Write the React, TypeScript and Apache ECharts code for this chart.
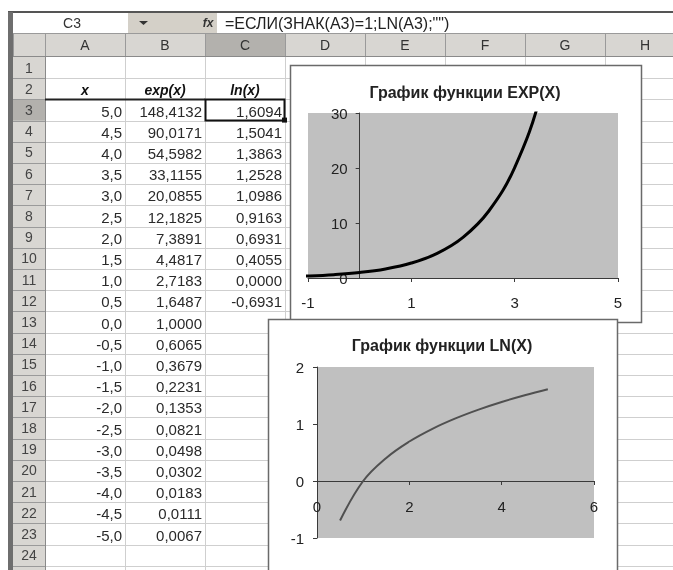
import React, { useEffect, useRef } from "react";
import * as echarts from "echarts";

// ---- data ----
const xValues = [5.0, 4.5, 4.0, 3.5, 3.0, 2.5, 2.0, 1.5, 1.0, 0.5, 0.0, -0.5, -1.0, -1.5, -2.0, -2.5, -3.0, -3.5, -4.0, -4.5, -5.0];
const expValues = [148.4132, 90.0171, 54.5982, 33.1155, 20.0855, 12.1825, 7.3891, 4.4817, 2.7183, 1.6487, 1.0, 0.6065, 0.3679, 0.2231, 0.1353, 0.0821, 0.0498, 0.0302, 0.0183, 0.0111, 0.0067];
const lnValues = [1.6094, 1.5041, 1.3863, 1.2528, 1.0986, 0.9163, 0.6931, 0.4055, 0.0, -0.6931];
const columnLetters = ["A", "B", "C", "D", "E", "F", "G", "H"];
const headerTexts = ["x", "exp(x)", "ln(x)"];
const cellName = "C3";
const formulaText = '=ЕСЛИ(ЗНАК(A3)=1;LN(A3);"")';
const expTitle = "График функции EXP(X)";
const lnTitle = "График функции LN(X)";
const expXTicks = [-1, 1, 3, 5];
const expYTicks = [0, 10, 20, 30];
const lnXTicks = [0, 2, 4, 6];
const lnYTicks = [-1, 0, 1, 2];

// ---- layout ----
const FONT = "'Liberation Sans', Arial, sans-serif";
const W = 673;
const H = 570;
const colEdges = [13, 45, 125, 205, 285, 365, 445, 525, 605, 685];
const headerTop = 33;
const rowTop0 = 57;
const rowH = 21.2;
const rowCount = 25;
const labelRows = 24;
const rowTop = (r: number) => rowTop0 + (r - 1) * rowH;

const expGrid = { left: 308, top: 113, width: 310, height: 165 };
const lnGrid = { left: 317, top: 367, width: 277, height: 171 };

const fmt = (v: number, d: number) => v.toFixed(d).replace(".", ",");

function buildGraphic() {
  const g: any[] = [];
  const rect = (x: number, y: number, w: number, h: number, fill: string, z = -30, stroke?: string, lw = 1) =>
    g.push({ type: "rect", silent: true, z, shape: { x, y, width: w, height: h }, style: { fill, stroke: stroke || null, lineWidth: stroke ? lw : 0 } });
  const line = (x1: number, y1: number, x2: number, y2: number, stroke: string, lw = 1, z = -25) =>
    g.push({ type: "line", silent: true, z, shape: { x1, y1, x2, y2 }, style: { stroke, lineWidth: lw } });
  const text = (x: number, y: number, t: string, font: string, align = "center", fill = "#222", z = -20) =>
    g.push({
      type: "text", silent: true, z, x, y,
      style: { text: t, font, fill, align, textAlign: align, verticalAlign: "middle", textVerticalAlign: "middle" },
    });

  rect(0, 0, W, H, "#ffffff", -40);
  // formula bar
  rect(13, 13, 115, 20, "#ffffff", -35);
  rect(128, 13, 89, 20, "#d4d0c8", -35);
  rect(217, 13, W - 217, 20, "#ffffff", -35);
  text(72, 23, cellName, `14px ${FONT}`, "center", "#333");
  g.push({ type: "polygon", silent: true, z: -20, shape: { points: [[139, 21], [148, 21], [143.5, 25]] }, style: { fill: "#333" } });
  text(208, 23, "fx", `italic bold 12px ${FONT}`, "center", "#333");
  text(225, 23, formulaText, `16px ${FONT}`, "left", "#222");
  line(8, 12, W, 12, "#555", 2, -24);
  line(13, 33.5, W, 33.5, "#9a9a9a", 1, -24);

  // header row
  rect(13, headerTop, W - 13, rowTop0 - headerTop, "#d8d6d2", -35);
  rect(colEdges[3], headerTop, colEdges[4] - colEdges[3], rowTop0 - headerTop, "#b3b1ad", -34);
  columnLetters.forEach((c, i) => {
    text((colEdges[i + 1] + colEdges[i + 2]) / 2, (headerTop + rowTop0) / 2, c, `14px ${FONT}`, "center", "#333");
  });
  colEdges.forEach((x) => line(x + 0.5, headerTop, x + 0.5, rowTop0, "#9a9a9a", 1, -24));
  line(13, rowTop0 - 0.5, W, rowTop0 - 0.5, "#8a8a8a", 1, -24);

  // row headers
  rect(13, rowTop0, colEdges[1] - 13, H - rowTop0, "#d8d6d2", -35);
  rect(13, rowTop(3), colEdges[1] - 13, rowH, "#b3b1ad", -34);
  for (let r = 1; r <= rowCount; r++) {
    if (r <= labelRows) text(29, rowTop(r) + rowH / 2, String(r), `14px ${FONT}`, "center", "#444");
    const yb = Math.round(rowTop(r) + rowH) + 0.5;
    line(13, yb, colEdges[1], yb, "#9a9a9a", 1, -24);
    line(colEdges[1], yb, W, yb, "#cfcfcf", 1, -26);
  }
  line(colEdges[1] + 0.5, rowTop0, colEdges[1] + 0.5, H, "#8a8a8a", 1, -24);
  colEdges.slice(2).forEach((x) => line(x + 0.5, rowTop0, x + 0.5, H, "#cfcfcf", 1, -26));
  // dark window edge
  rect(8, 12, 5, H - 12, "#6e6e6e", -23);

  // table texts
  headerTexts.forEach((t, i) => {
    text((colEdges[i + 1] + colEdges[i + 2]) / 2, rowTop(2) + rowH / 2 + 1, t, `italic bold 14px ${FONT}`, "center", "#111");
  });
  line(colEdges[1], rowTop(3), colEdges[3], rowTop(3), "#222", 2, -22);
  xValues.forEach((x, i) => {
    const cy = rowTop(3 + i) + rowH / 2 + 1;
    text(colEdges[2] - 3, cy, fmt(x, 1), `15px ${FONT}`, "right", "#2a2a2a");
    text(colEdges[3] - 3, cy, fmt(expValues[i], 4), `15px ${FONT}`, "right", "#2a2a2a");
    if (i < lnValues.length) text(colEdges[4] - 3, cy, fmt(lnValues[i], 4), `15px ${FONT}`, "right", "#2a2a2a");
  });
  // selected cell C3
  g.push({ type: "rect", silent: true, z: -21, shape: { x: colEdges[3] + 0.5, y: rowTop(3), width: colEdges[4] - colEdges[3] - 1, height: rowH }, style: { fill: null, stroke: "#111", lineWidth: 2 } });
  rect(colEdges[4] - 3, rowTop(4) - 3, 5, 5, "#111", -21);

  // chart boxes
  rect(290.5, 65.5, 351, 257, "#ffffff", -10, "#6a6a6a", 1.5);
  rect(268.5, 319.5, 349, 262, "#ffffff", -9, "#6a6a6a", 1.5);
  text(465, 92, expTitle, `bold 16px ${FONT}`, "center", "#222", -8);
  text(442, 345, lnTitle, `bold 16px ${FONT}`, "center", "#222", -8);
  return g;
}

const axisLabel = (margin: number) => ({ margin, color: "#222", fontSize: 15, fontFamily: FONT });
const axisLine = { onZero: false, lineStyle: { color: "#3a3a3a", width: 1 } };
const axisTick = { show: true, inside: false, length: 4, lineStyle: { color: "#3a3a3a" } };

// offset (negative = into the grid) that puts an axis where the other axis is 0
const zeroOffset = (ticks: number[], size: number, fromMax = false) => {
  const min = ticks[0];
  const max = ticks[ticks.length - 1];
  const frac = fromMax ? (max - 0) / (max - min) : (0 - min) / (max - min);
  return -Math.max(0, Math.min(1, fromMax ? 1 - frac : frac)) * size;
};

function valueAxis(ticks: number[], gridIndex: number, margin: number, offset: number) {
  return {
    type: "value",
    gridIndex,
    min: ticks[0],
    max: ticks[ticks.length - 1],
    interval: ticks[1] - ticks[0],
    offset,
    axisLine,
    axisTick,
    axisLabel: axisLabel(margin),
    splitLine: { show: false },
  };
}

export default function App() {
  const ref = useRef<HTMLDivElement>(null);
  useEffect(() => {
    document.body.style.margin = "0";
    const chart = echarts.init(ref.current!, null, { renderer: "svg" });
    chart.setOption({
      animation: false,
      grid: [
        { ...expGrid, show: true, backgroundColor: "#c0c0c0", borderWidth: 0 },
        { ...lnGrid, show: true, backgroundColor: "#c0c0c0", borderWidth: 0 },
      ],
      xAxis: [
        valueAxis(expXTicks, 0, 17, zeroOffset(expYTicks, expGrid.height)),
        valueAxis(lnXTicks, 1, 18, zeroOffset(lnYTicks, lnGrid.height)),
      ],
      yAxis: [
        valueAxis(expYTicks, 0, 12, zeroOffset(expXTicks, expGrid.width)),
        valueAxis(lnYTicks, 1, 13, zeroOffset(lnXTicks, lnGrid.width)),
      ],
      graphic: { elements: buildGraphic() },
      series: [
        {
          type: "line",
          xAxisIndex: 0,
          yAxisIndex: 0,
          data: xValues.map((x, i) => [x, expValues[i]]),
          smooth: 0.4,
          symbol: "none",
          clip: true,
          lineStyle: { color: "#000", width: 3 },
        },
        {
          type: "line",
          xAxisIndex: 1,
          yAxisIndex: 1,
          data: lnValues.map((v, i) => [xValues[i], v]),
          smooth: 0.4,
          symbol: "none",
          clip: true,
          lineStyle: { color: "#505050", width: 2 },
        },
      ],
    });
    return () => chart.dispose();
  }, []);
  return <div ref={ref} style={{ position: "fixed", left: 0, top: 0, width: W, height: H }} />;
}
